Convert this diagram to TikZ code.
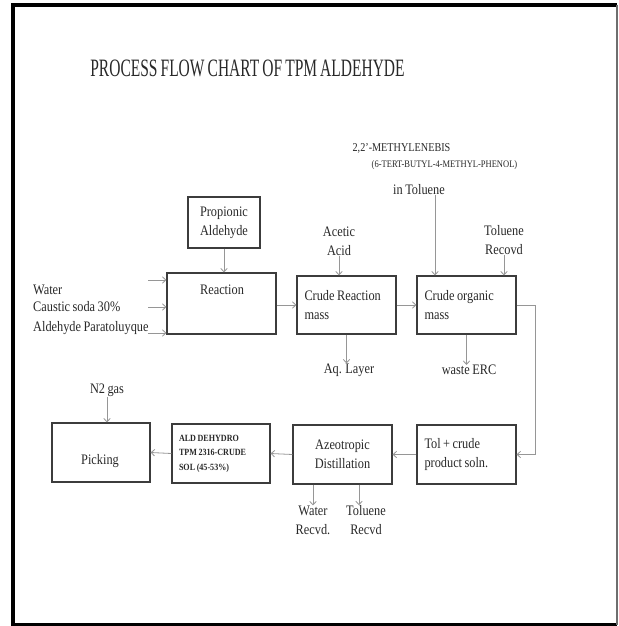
\documentclass[tikz,border=0pt]{standalone}
\usepackage{fontspec}
\setmainfont{Liberation Serif}[FakeStretch=0.85,WordSpace=0.8]
\newfontfamily\titlefont{Liberation Serif}[FakeStretch=0.62,WordSpace=0.8]
\usetikzlibrary{arrows.meta}

\begin{document}
\begin{tikzpicture}[x=1pt,y=1pt,yscale=-1,xscale=1,
  box/.style={draw={rgb,255:red,60;green,60;blue,60},line width=1.1pt,inner sep=0pt,minimum width=99pt,minimum height=59pt},
  flow/.style={draw={rgb,255:red,150;green,150;blue,150},line width=0.8pt,-{Straight Barb[length=3.5pt,width=6.5pt]}},
  txt/.style={font=\fontsize{14.5}{19}\selectfont,text={rgb,255:red,40;green,40;blue,40},inner sep=0pt},
  small/.style={font=\fontsize{10}{13}\selectfont,text={rgb,255:red,40;green,40;blue,40},inner sep=0pt}]
\useasboundingbox (0,0) rectangle (618,626);

%Shape: Frame
\draw [line width=4pt] (617,5) -- (13,5) -- (13,624.5) -- (617,624.5) ;
\draw [color={rgb, 255:red, 110; green, 110; blue, 110 }, line width=1.5pt] (617,5) -- (617,624.5) ;

% Text Node
\draw (247.5,68) node (title) [font=\titlefont\fontsize{25}{30}\selectfont, text={rgb,255:red,40;green,40;blue,40}] {PROCESS FLOW CHART OF TPM ALDEHYDE};

%Shape: Rectangles
\draw (224,222.5) node (prop) [box,txt,minimum width=72pt,minimum height=51pt,align=center] {Propionic\\Aldehyde};
\draw (221.5,303.5) node (react) [box,minimum width=109pt,minimum height=61pt] {};
\draw (346.5,305) node (crudeR) [box,txt,minimum height=58pt,text width=84pt,align=flush left] {Crude Reaction\\mass};
\draw (466.5,305) node (crudeO) [box,txt,minimum height=58pt,text width=84pt,align=flush left] {Crude organic\\mass};
\draw (466.5,454.5) node (tol) [box,txt,text width=84pt,align=flush left] {Tol + crude\\product soln.};
\draw (342.5,454.5) node (azeo) [box,txt,align=center] {Azeotropic\\Distillation};
\draw (221,453.5) node (ald) [box,font=\bfseries\fontsize{9.5}{14.5}\selectfont,text={rgb,255:red,40;green,40;blue,40},minimum width=98pt,text width=84pt,align=flush left] {ALD DEHYDRO\\TPM 2316-CRUDE\\SOL (45-53\%)};
\draw (101,452.5) node (pick) [box,minimum width=98pt] {};

% Text Node
\draw (222,290) node (reactlbl) [txt] {Reaction};
\draw (100,461) node (picklbl) [txt] {Picking};
\draw (33,290) node (water) [txt,anchor=west] {Water};
\draw (33,307) node (caustic) [txt,anchor=west] {Caustic soda 30\%};
\draw (33,328) node (paratol) [txt,anchor=west] {Aldehyde Paratoluyque};
\draw (339,241) node (acetic) [txt,align=center] {Acetic\\Acid};
\draw (504,240) node (tolrec) [txt,align=center] {Toluene\\Recovd};
\draw (401.5,148) node (methylA) [small,font=\fontsize{12}{14}\selectfont] {2,2'-METHYLENEBIS};
\draw (444.5,165) node (methylB) [small] {(6-TERT-BUTYL-4-METHYL-PHENOL)};
\draw (419,190) node (methylC) [txt] {in Toluene};
\draw (349,370) node (aq) [txt] {Aq. Layer};
\draw (469,370) node (erc) [txt] {waste ERC};
\draw (313,520) node (wrec) [txt,align=center] {Water\\Recvd.};
\draw (366,520) node (trec) [txt,align=center] {Toluene\\Recvd};
\draw (107,390) node (nitro) [txt] {N2 gas};

\coordinate (in1) at (148,280);
\coordinate (in2) at (148,307);
\coordinate (in3) at (148,333);

%Straight Lines
\draw [flow] (in1) -- (in1 -| react.west);
\draw [flow] (in2) -- (in2 -| react.west);
\draw [flow] (in3) -- (in3 -| react.west);
\draw [flow] (prop.south) -- (react.north -| prop.south);
\draw [flow] (react.east |- crudeR.west) -- (crudeR.west);
\draw [flow] (acetic.south) -- (acetic.south |- crudeR.north);
\draw [flow] (crudeR.east) -- (crudeO.west);
\draw [flow] ([xshift=16pt]methylC.south) -- ([xshift=16pt]methylC.south |- crudeO.north);
\draw [flow] (tolrec.south) -- (tolrec.south |- crudeO.north);
\draw [flow] (crudeR.south) -- (crudeR.south |- aq.north);
\draw [flow] (crudeO.south) -- (crudeO.south |- erc.north);
\draw [flow] (crudeO.east) -- ++(19,0) |- (tol.east);
\draw [flow] (tol.west) -- (azeo.east);
\draw [flow] (azeo.west) -- (ald.east);
\draw [flow] (ald.west) -- (pick.east);
\draw [flow] (wrec.north |- azeo.south) -- (wrec.north);
\draw [flow] ([xshift=16.5pt]azeo.south) -- ([xshift=16.5pt]azeo.south |- trec.north);
\draw [flow] (nitro.south) -- (nitro.south |- pick.north);

\end{tikzpicture}
\end{document}
